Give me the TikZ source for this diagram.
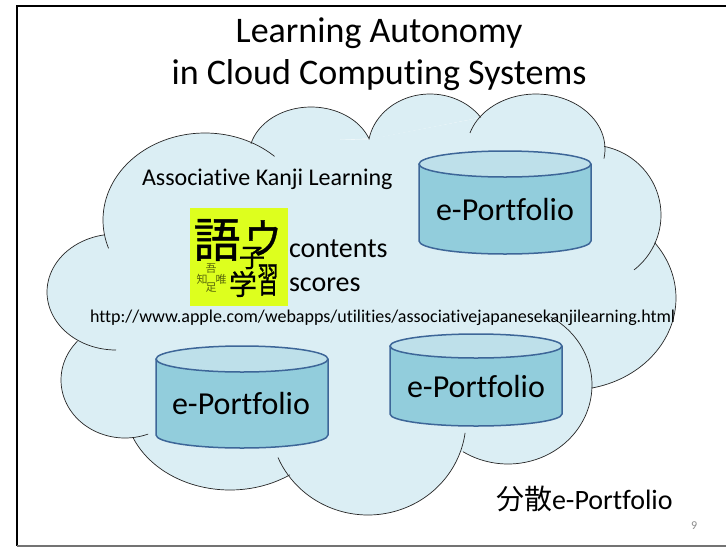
\documentclass[tikz,border=0pt]{standalone}
\usepackage{fontspec}
\setmainfont[Ligatures=NoCommon]{Carlito}
\newfontfamily\cjk{Noto Sans CJK JP}
\newfontfamily\cjkheavy[FakeBold=1.0]{Noto Sans CJK JP}
\definecolor{cloudfill}{HTML}{DBEEF4}
\definecolor{cylbody}{HTML}{92CDDC}
\definecolor{cyltop}{HTML}{BEE0EA}
\definecolor{cylline}{HTML}{3D6698}
\definecolor{iconyellow}{HTML}{DDFF1E}
\newcommand{\fs}[1]{\fontsize{#1}{#1}\selectfont}
% lobe: cx cy rx ry start end (angles clockwise on screen, 0 = right)
\newcommand{\lobefill}[6]{%
  \fill[cloudfill] plot[domain=#5:#6,samples=50,smooth] ({#1+#3*cos(\x)},{#2+#4*sin(\x)}) -- cycle;}
\newcommand{\lobeline}[6]{%
  \draw[cloudline] plot[domain=#5:#6,samples=50,smooth] ({#1+#3*cos(\x)},{#2+#4*sin(\x)});}
\newcommand{\cyl}[5]{% xl xr top-centre bottom-centre ry
  \path[fill=cylbody] (#1,#3) -- (#1,#4) arc[start angle=180,end angle=0,x radius={(#2-#1)/2},y radius=#5] -- (#2,#3) -- cycle;
  \draw[cylstroke] (#1,#3) -- (#1,#4) arc[start angle=180,end angle=0,x radius={(#2-#1)/2},y radius=#5] -- (#2,#3);
  \draw[cylstroke,fill=cyltop] ({(#1+#2)/2},#3) ellipse[x radius={(#2-#1)/2},y radius=#5];}
\tikzset{
  x=1pt,y=-1pt,
  cloudline/.style={draw=black!85,line width=0.7pt},
  cylstroke/.style={draw=cylline,line width=1.5pt},
  txt/.style={inner sep=0pt,outer sep=0pt,anchor=base west,text=black},
  ctxt/.style={inner sep=0pt,outer sep=0pt,anchor=base,text=black},
  kanji/.style={inner sep=0pt,outer sep=0pt,anchor=center,text=black},
  small kanji/.style={kanji,text=black!60!iconyellow},
}
\begin{document}
\begin{tikzpicture}
\useasboundingbox (0,0) rectangle (726,547);
\fill[white] (0,0) rectangle (726,547);
% frame
\draw[black,line width=2pt] (726,6) -- (17,6) -- (17,546);
\draw[black!55,line width=1.2pt] (17,546) -- (726,546);
% cloud body
\lobefill{205}{220}{102}{87}{161}{313}
\lobefill{311}{156}{62}{49}{194.5}{339}
\lobefill{430}{149}{62}{55}{190}{325}
\lobefill{536}{149}{69}{55}{197}{370}
\lobefill{590}{215}{71}{70}{281.5}{411.7}
\lobefill{570}{298}{106}{92}{323}{438.3}
\lobefill{508}{385}{84}{79}{300.5}{482.3}
\lobefill{368}{420}{98}{95}{7.8}{156.7}
\lobefill{230}{405}{105}{85}{55.2}{157.4}
\lobefill{125}{380}{64}{58}{68.8}{221.9}
\lobefill{116}{292}{69}{58}{90}{260.6}
\fill[cloudfill,draw=cloudfill,line width=1.5pt,line join=round] (107,236) -- (255,142) -- (369,140) -- (478,119) -- (603,148) -- (654,243) -- (592,386) -- (464,451) -- (288,475) -- (135,438) -- (78,342) -- cycle;
\lobeline{205}{220}{102}{87}{161}{313}
\lobeline{311}{156}{62}{49}{194.5}{339}
\lobeline{430}{149}{62}{55}{190}{325}
\lobeline{536}{149}{69}{55}{197}{370}
\lobeline{590}{215}{71}{70}{281.5}{411.7}
\lobeline{570}{298}{106}{92}{323}{438.3}
\lobeline{508}{385}{84}{79}{300.5}{482.3}
\lobeline{368}{420}{98}{95}{7.8}{156.7}
\lobeline{230}{405}{105}{85}{55.2}{157.4}
\lobeline{125}{380}{64}{58}{68.8}{221.9}
\lobeline{116}{292}{69}{58}{90}{260.6}
% cylinders
\cyl{419}{591}{164}{241}{13}
\cyl{156}{328}{359}{435}{13}
\cyl{390}{562}{346}{414}{12}
% title
\node[ctxt,font=\fs{36}] (t1) at (379,42) {Learning Autonomy};
\node[ctxt,font=\fs{36}] (t2) at (379,84) {in Cloud Computing Systems};
% cylinder labels
\node[ctxt,font=\fs{32}] (p1) at (505,220) {e-Portfolio};
\node[ctxt,font=\fs{32}] (p2) at (241,414) {e-Portfolio};
\node[ctxt,font=\fs{32}] (p3) at (476,397) {e-Portfolio};
% texts
\node[txt,font=\fs{24}] (akl) at (142,185) {Associative Kanji Learning};
\node[txt,font=\fs{28}] (con) at (289,257) {contents};
\node[txt,font=\fs{28}] (sco) at (289,291) {scores};
\node[txt,font=\fs{18}] (url) at (90,322) {http://www.apple.com/webapps/utilities/associativejapanesekanjilearning.html};
\node[txt,font=\fs{28}] (dist) at (496,509) {{\cjk\fs{28}分散}e-Portfolio};
\node[txt,font=\fs{12},text=black!45] (num) at (691,529) {9};
% icon
\node[inner sep=0pt,outer sep=0pt,minimum width=98pt,minimum height=98pt,fill=iconyellow,anchor=north west] (icon) at (190,208) {};
\node[kanji,font=\cjkheavy\fs{47}] (k1) at (217,240) {語};
\node[kanji,font=\cjkheavy\fs{42},xscale=0.9] (k2) at (263,238) {ウ};
\node[kanji,font=\cjkheavy\fs{26}] (k3) at (252,258) {子};
\node[kanji,font=\cjkheavy\fs{28}] (k4) at (243,284) {学};
\node[kanji,font=\cjkheavy\fs{36},xscale=0.58] (k5) at (268,280) {習};
\node[small kanji,font=\cjk\fs{11}] (s1) at (211,269) {吾};
\node[small kanji,font=\cjk\fs{11}] (s2) at (202,279) {知};
\node[small kanji,font=\cjk\fs{11}] (s3) at (221,279) {唯};
\node[small kanji,font=\cjk\fs{11}] (s4) at (211,288) {足};
\end{tikzpicture}
\end{document}
